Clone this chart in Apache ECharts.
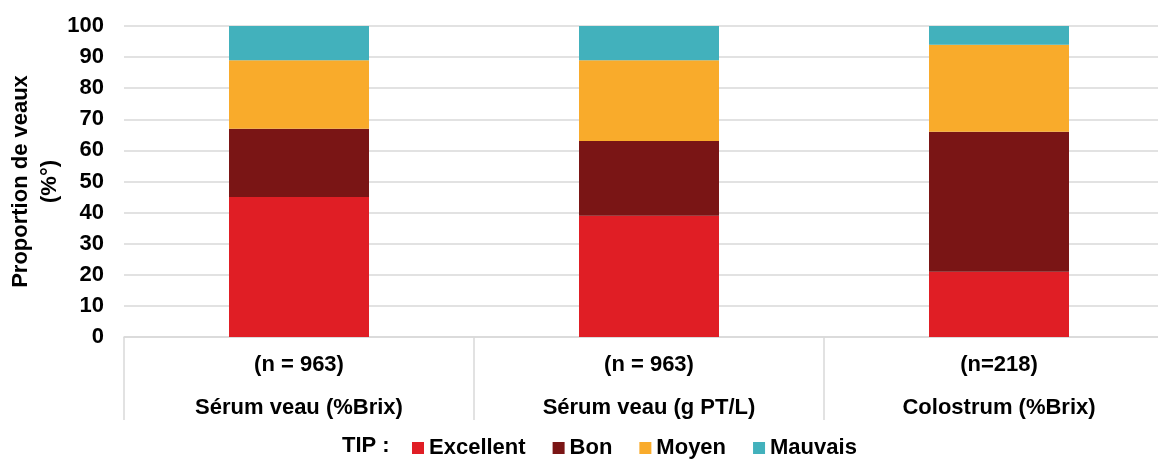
<!DOCTYPE html>
<html>
<head>
<meta charset="utf-8">
<script src="https://cdn.jsdelivr.net/npm/echarts@6/dist/echarts.min.js"></script>
<style>html,body{margin:0;padding:0;background:#fff;}#c{width:1158px;height:459px;}</style>
</head>
<body>
<div id="c"></div>
<script>
const categories = ["(n = 963)\nSérum veau (%Brix)", "(n = 963)\nSérum veau (g PT/L)", "(n=218)\nColostrum (%Brix)"];
const seriesNames = ["Excellent", "Bon", "Moyen", "Mauvais"];
const excellent = [45, 39, 21];
const bon = [22, 24, 45];
const moyen = [22, 26, 28];
const mauvais = [11, 11, 6];
const yTicks = { min: 0, max: 100, interval: 10 };

const colors = ["#E01E25", "#7A1515", "#F9AB2B", "#42B1BC"];
const values = [excellent, bon, moyen, mauvais];
const font = "Liberation Sans, Arial, sans-serif";

const chart = echarts.init(document.getElementById('c'));
chart.setOption({
  animation: false,
  textStyle: { fontFamily: font },
  grid: { left: 124, top: 26, width: 1050, height: 311, containLabel: false, outerBoundsMode: 'none' },
  legend: {
    left: 412, top: 437, padding: 0,
    icon: 'rect', itemWidth: 12, itemHeight: 12, itemGap: 27,
    textStyle: { fontSize: 22, fontWeight: 'bold', color: '#000', fontFamily: font },
    data: seriesNames
  },
  graphic: [{
    type: 'text', left: 342, top: 435,
    style: { text: 'TIP :', fontSize: 22, fontWeight: 'bold', fill: '#000', fontFamily: font }
  }],
  xAxis: {
    type: 'category', data: categories,
    axisLine: { lineStyle: { color: '#d9d9d9', width: 1.5 } },
    axisTick: { show: true, length: 83, lineStyle: { color: '#d9d9d9', width: 1.5 } },
    axisLabel: { margin: 6, fontSize: 22, fontWeight: 'bold', color: '#000', lineHeight: 43, fontFamily: font }
  },
  yAxis: {
    type: 'value', min: yTicks.min, max: yTicks.max, interval: yTicks.interval,
    name: 'Proportion de veaux\n(%°)', nameLocation: 'middle', nameGap: 60, nameRotate: 90,
    nameMoveOverlap: false,
    nameTextStyle: { fontSize: 22, fontWeight: 'bold', color: '#000', lineHeight: 29, fontFamily: font },
    axisLine: { show: false }, axisTick: { show: false },
    axisLabel: { margin: 20, fontSize: 22, fontWeight: 'bold', color: '#000', fontFamily: font },
    splitLine: { lineStyle: { color: '#d9d9d9', width: 1.5 } }
  },
  series: seriesNames.map((n, i) => ({
    name: n, type: 'bar', stack: 'all', data: values[i], barWidth: '40%',
    itemStyle: { color: colors[i] }
  }))
});
</script>
</body>
</html>
